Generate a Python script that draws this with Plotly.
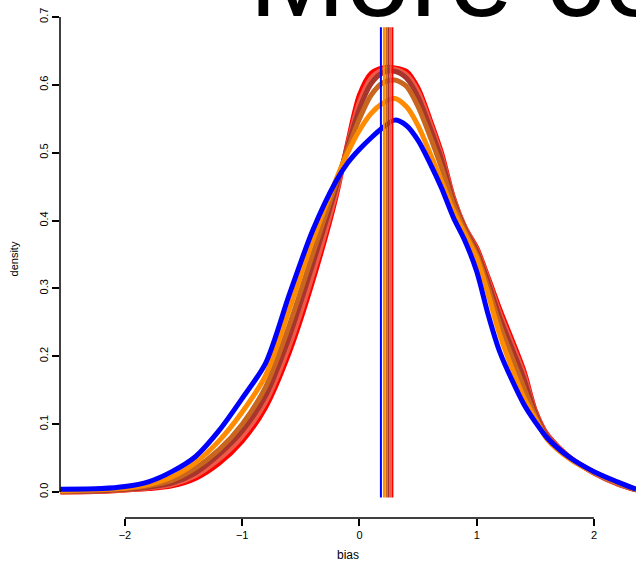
import plotly.graph_objects as go

# ---- data ----
x_grid = [-2.55, -2.2, -2.0, -1.8, -1.6, -1.4, -1.2, -1.0, -0.8, -0.6, -0.4, -0.2, -0.1,
          0.0, 0.1, 0.2, 0.3, 0.4, 0.5, 0.6, 0.7, 0.8, 0.9, 1.0, 1.1, 1.2, 1.4, 1.5, 1.6,
          1.8, 2.0, 2.2, 2.36]

dens_red = [0.0, 0.001, 0.003, 0.005, 0.009, 0.02, 0.042, 0.075, 0.125, 0.205, 0.31, 0.435, 0.515,
            0.585, 0.617, 0.625, 0.625, 0.62, 0.595, 0.55, 0.5, 0.435, 0.39, 0.36, 0.315, 0.268, 0.18,
            0.12, 0.085, 0.05, 0.028, 0.012, 0.003]
dens_tomato = [0.0, 0.001, 0.003, 0.006, 0.011, 0.024, 0.048, 0.082, 0.133, 0.215, 0.32, 0.44, 0.512,
               0.575, 0.61, 0.622, 0.623, 0.615, 0.59, 0.545, 0.495, 0.433, 0.39, 0.358, 0.312, 0.262,
               0.175, 0.118, 0.084, 0.05, 0.028, 0.012, 0.003]
dens_brown = [0.001, 0.002, 0.004, 0.007, 0.013, 0.028, 0.055, 0.09, 0.142, 0.228, 0.335, 0.448, 0.51,
              0.565, 0.602, 0.618, 0.62, 0.61, 0.582, 0.538, 0.49, 0.43, 0.388, 0.355, 0.308, 0.256,
              0.168, 0.116, 0.082, 0.05, 0.029, 0.013, 0.003]
dens_chocolate = [0.001, 0.003, 0.005, 0.009, 0.017, 0.035, 0.062, 0.1, 0.155, 0.245, 0.35, 0.455, 0.505,
                  0.55, 0.585, 0.603, 0.607, 0.598, 0.568, 0.525, 0.478, 0.425, 0.385, 0.35, 0.3, 0.245,
                  0.155, 0.112, 0.08, 0.049, 0.029, 0.013, 0.003]
dens_orange = [0.002, 0.004, 0.006, 0.011, 0.022, 0.043, 0.075, 0.118, 0.172, 0.268, 0.37, 0.46, 0.5,
               0.533, 0.558, 0.573, 0.58, 0.568, 0.54, 0.5, 0.458, 0.415, 0.38, 0.345, 0.29, 0.23,
               0.14, 0.108, 0.078, 0.048, 0.029, 0.014, 0.004]
dens_blue = [0.004, 0.005, 0.008, 0.015, 0.03, 0.052, 0.09, 0.138, 0.19, 0.29, 0.385, 0.458, 0.485,
             0.505, 0.522, 0.537, 0.548, 0.54, 0.518, 0.485, 0.448, 0.405, 0.37, 0.325, 0.26, 0.205,
             0.13, 0.103, 0.08, 0.05, 0.03, 0.015, 0.004]

series_names = ["red", "tomato", "brown", "chocolate", "orange", "blue"]
series_values = [dens_red, dens_tomato, dens_brown, dens_chocolate, dens_orange, dens_blue]
series_colors = ["#FF0000", "#EE5A48", "#A8352B", "#C8651E", "#FF8C00", "#0000FF"]
series_means = [0.281, 0.264, 0.247, 0.230, 0.209, 0.183]
mean_line_y = [-0.008, 0.685]

y_ticks = [0.0, 0.1, 0.2, 0.3, 0.4, 0.5, 0.6, 0.7]
y_tick_labels = ["0.0", "0.1", "0.2", "0.3", "0.4", "0.5", "0.6", "0.7"]
x_ticks = [-2, -1, 0, 1, 2]
x_tick_labels = ["\u22122", "\u22121", "0", "1", "2"]

fig = go.Figure()

for name, vals, col in zip(series_names, series_values, series_colors):
    fig.add_trace(go.Scatter(x=x_grid, y=vals, mode="lines", name=name,
                             line=dict(color=col, width=5, shape="spline", smoothing=0.8),
                             showlegend=False, hoverinfo="skip"))

for name, m, col in zip(series_names, series_means, series_colors):
    fig.add_trace(go.Scatter(x=[m, m], y=mean_line_y, mode="lines",
                             line=dict(color=col, width=2), showlegend=False, hoverinfo="skip"))

FONT = "Liberation Sans, Arial, sans-serif"

# R-style axis lines (only between extreme ticks)
fig.add_shape(type="line", xref="x", yref="paper", x0=x_ticks[0], x1=x_ticks[-1], y0=0, y1=0,
              line=dict(color="black", width=1.5))
fig.add_shape(type="line", xref="paper", yref="y", x0=0, x1=0, y0=y_ticks[0], y1=y_ticks[-1],
              line=dict(color="black", width=1.5))

fig.add_annotation(text="More complex", xref="paper", yref="paper", x=(247 - 60) / 576, y=1.0,
                   xanchor="left", yanchor="middle", yshift=24, showarrow=False,
                   font=dict(family=FONT, size=116, color="black"))

fig.update_layout(
    width=636, height=568,
    margin=dict(l=60, r=0, t=0, b=50),
    paper_bgcolor="white", plot_bgcolor="white",
    xaxis=dict(range=[-2.554, 2.3586], showgrid=False, zeroline=False, showline=False,
               tickvals=x_ticks, ticktext=x_tick_labels, ticks="outside", ticklen=7, tickwidth=1.5,
               tickcolor="black", tickfont=dict(family=FONT, size=11, color="black"),
               title=dict(text="bias", font=dict(family=FONT, size=12, color="black"), standoff=10)),
    yaxis=dict(range=[-0.0383, 0.725], showgrid=False, zeroline=False, showline=False,
               tickvals=y_ticks, ticktext=y_tick_labels, ticks="outside", ticklen=7, tickwidth=1.5,
               tickcolor="black", tickangle=-90, tickfont=dict(family=FONT, size=11, color="black"),
               title=dict(text="density", font=dict(family=FONT, size=11, color="black"), standoff=16)),
)

fig.write_html("out.html")
